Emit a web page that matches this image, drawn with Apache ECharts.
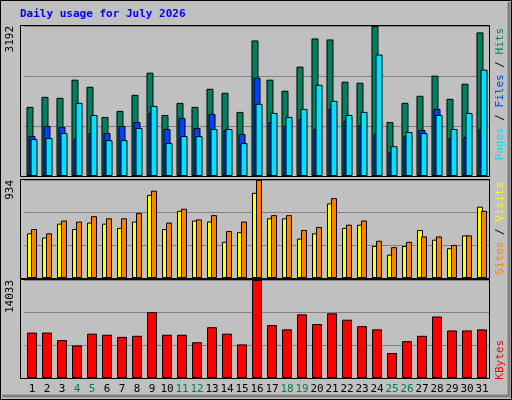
<!DOCTYPE html>
<html><head><meta charset="utf-8">
<script src="https://cdn.jsdelivr.net/npm/echarts@6/dist/echarts.min.js"></script>
<style>html,body{margin:0;padding:0;background:#c0c0c0}#c{width:512px;height:400px}</style>
</head><body><div id="c"></div>
<script>
const days = ['1','2','3','4','5','6','7','8','9','10','11','12','13','14','15','16','17','18','19','20','21','22','23','24','25','26','27','28','29','30','31'];
const weekend = ['4','5','11','12','18','19','25','26'];
const hits = [1471,1685,1664,2049,1899,1257,1385,1728,2199,1299,1557,1471,1856,1771,1364,2885,2049,1814,2328,2927,2906,2006,1985,3192,1150,1557,1707,2135,1642,1964,3056];
const files = [850,1064,1042,793,914,914,1064,1150,1342,1000,1235,1021,1321,978,893,2092,1150,1064,1214,1000,1428,1171,1085,893,507,850,978,1428,807,828,1000];
const pages = [785,807,914,1557,1299,764,764,1021,1492,700,850,850,1000,1000,700,1535,1342,1257,1428,1942,1599,1299,1364,2585,635,935,914,1299,1000,1342,2263];
const sites = [426,386,518,467,528,518,477,538,792,467,640,548,538,345,437,812,569,569,376,426,711,477,508,305,223,305,457,365,284,406,680];
const visits = [467,426,548,538,589,569,569,619,832,528,660,558,599,447,538,934,599,599,457,487,761,508,548,355,294,345,396,396,315,406,640];
const kbytes = [6502,6502,5427,4659,6349,6195,5888,6042,9421,6195,6195,5120,7270,6349,4813,14033,7578,6963,9114,7731,9267,8346,7424,6963,3584,5274,6042,8806,6810,6810,6963];
const maxHits = 3192, maxVisits = 934, maxKB = 14033;

const mono = 'DejaVu Sans Mono';
const panels = [[26,150],[180,98],[280,98]];
const grids = panels.map(p => ({left:24.5, right:22.5, top:p[0], height:p[1], show:false}));
const xAxes = [0,1,2].map(i => ({
  type:'category', data:days, gridIndex:i,
  axisLine:{show:false}, axisTick:{show:false},
  axisLabel: i===2 ? {show:true, fontFamily:mono, fontSize:11, margin:6, interval:0,
    color: v => weekend.includes(v) ? '#008040' : '#000'} : {show:false}
}));
const maxes = [maxHits, maxVisits, maxKB];
const yAxes = maxes.map((m,i) => ({
  type:'value', gridIndex:i, min:0, max:m, interval:m/3,
  axisLabel:{show:false}, axisLine:{show:false}, axisTick:{show:false},
  splitLine:{show:true, lineStyle:{color:'#808080', width:1}}
}));
const bs = {borderColor:'#000', borderWidth:1};
const series = [
  {type:'bar', data:hits, xAxisIndex:0, yAxisIndex:0, barWidth:7, barGap:'-71%', itemStyle:Object.assign({color:'#008060'},bs)},
  {type:'bar', data:files, xAxisIndex:0, yAxisIndex:0, barWidth:7, barGap:'-71%', itemStyle:Object.assign({color:'#0040ff'},bs)},
  {type:'bar', data:pages, xAxisIndex:0, yAxisIndex:0, barWidth:7, barGap:'-71%', itemStyle:Object.assign({color:'#00e0ff'},bs)},
  {type:'bar', data:sites, xAxisIndex:1, yAxisIndex:1, barWidth:6, barGap:'-33%', itemStyle:Object.assign({color:'#ffff00'},bs)},
  {type:'bar', data:visits, xAxisIndex:1, yAxisIndex:1, barWidth:6, barGap:'-33%', itemStyle:Object.assign({color:'#ff8000'},bs)},
  {type:'bar', data:kbytes, xAxisIndex:2, yAxisIndex:2, barWidth:10, itemStyle:Object.assign({color:'#ff0000'},bs)}
];
const rt = (x,y,txt) => ({type:'text', x, y, rotation:Math.PI/2, style:{text:txt, fontFamily:mono, fontSize:11, align:'right', verticalAlign:'middle'}});
const frames = panels.map(p => ({type:'rect', z:100, shape:{x:20.5, y:p[0]-0.5, width:469, height:p[1]+1}, style:{fill:'none', stroke:'#000', lineWidth:1}}));
const chart = echarts.init(document.getElementById('c'), null, {renderer:'canvas'});
chart.setOption({
  animation:false,
  backgroundColor:'#c0c0c0',
  grid:grids, xAxis:xAxes, yAxis:yAxes, series,
  graphic:[
    {type:'rect', shape:{x:0.5,y:0.5,width:511,height:399}, style:{fill:'none', stroke:'#000', lineWidth:1}, z:-1},
    {type:'polyline', shape:{points:[[2,396],[509,396],[509,2]]}, style:{stroke:'#808080', lineWidth:3, fill:'none'}},
    {type:'text', x:20, y:9, style:{text:'Daily usage for July 2026', fill:'#0000ff', fontFamily:mono, fontSize:11, fontWeight:'bold'}},
    rt(10,26,'3192'),
    rt(10,180,'934'),
    rt(10,280,'14033'),
    {type:'text', x:500, y:28, rotation:Math.PI/2, style:{text:'{c|Pages} {k|/} {b|Files} {k|/} {g|Hits}', fontFamily:mono, fontSize:11, align:'right', verticalAlign:'middle',
      rich:{c:{fill:'#00e0ff',fontFamily:mono,fontSize:11},b:{fill:'#0040ff',fontFamily:mono,fontSize:11},g:{fill:'#008060',fontFamily:mono,fontSize:11},k:{fill:'#000',fontFamily:mono,fontSize:11}}}},
    {type:'text', x:500, y:182, rotation:Math.PI/2, style:{text:'{o|Sites} {k|/} {y|Visits}', fontFamily:mono, fontSize:11, align:'right', verticalAlign:'middle',
      rich:{o:{fill:'#ff8000',fontFamily:mono,fontSize:11},y:{fill:'#ffff00',fontFamily:mono,fontSize:11},k:{fill:'#000',fontFamily:mono,fontSize:11}}}},
    {type:'text', x:500, y:340, rotation:Math.PI/2, style:{text:'KBytes', fill:'#ff0000', fontFamily:mono, fontSize:11, align:'right', verticalAlign:'middle'}}
  ].concat(frames)
});
</script></body></html>
